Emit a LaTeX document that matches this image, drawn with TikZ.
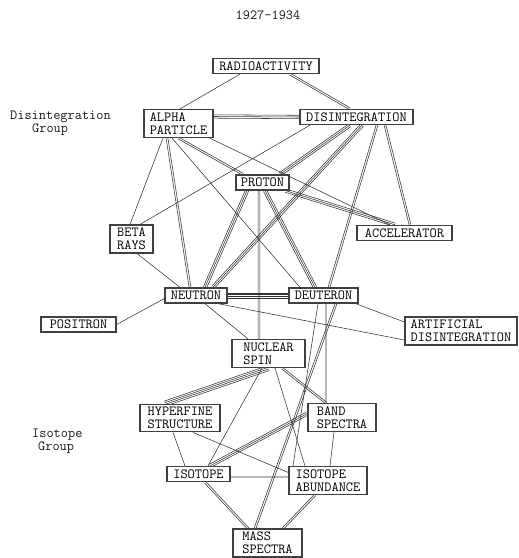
\documentclass[tikz,border=0pt]{standalone}
\usetikzlibrary{calc,backgrounds}
\tikzset{
  box/.style={draw=black!75, line width=1.3bp,
    fill=white, font=\ttfamily\fontsize{14}{13}\selectfont, text=black,
    align=left, inner xsep=3bp, inner ysep=3bp, minimum height=15bp},
  lbl/.style={font=\ttfamily\fontsize{14}{13}\selectfont, text=black!90,
    align=left, inner sep=0pt},
  ln/.style={draw=black!80, line width=0.55bp},
}
\newcommand\cnl[3]{\foreach \o in {#3}{\draw[ln] ($(#1)!\o!90:(#2)$) -- ($(#2)!\o!-90:(#1)$);}}
\newcommand\cA[2]{\draw[ln] (#1) -- (#2);}
\newcommand\cB[2]{\cnl{#1}{#2}{-0.9bp,0.9bp}}
\newcommand\cC[2]{\cnl{#1}{#2}{-1.7bp,0bp,1.7bp}}
\newcommand\cD[2]{\cnl{#1}{#2}{-2.55bp,-0.85bp,0.85bp,2.55bp}}
\begin{document}
\begin{tikzpicture}[x=1bp,y=-1bp]
\useasboundingbox (0,0) rectangle (519,558);
% labels
\node[lbl] (title) at (268,15) {1927-1934};
\node[lbl, anchor=west] (dgroup) at (10,123.5) {Disintegration\\\hspace*{22bp}Group};
\node[lbl, anchor=west] (igroup) at (32,441.5) {Isotope\\\hspace*{6bp}Group};
% nodes
\node[box, minimum width=106bp] (radio) at (266,66) {RADIOACTIVITY};
\node[box, minimum width=69bp] (alpha) at (178.5,123.5) {ALPHA\\PARTICLE};
\node[box, minimum width=113bp] (disint) at (356.5,117) {DISINTEGRATION};
\node[box, minimum width=53bp] (proton) at (262.5,182.5) {PROTON};
\node[box, minimum width=43bp] (beta) at (131.5,239) {BETA\\RAYS};
\node[box, minimum width=95bp] (accel) at (404.5,233) {ACCELERATOR};
\node[box, minimum width=62bp] (neutron) at (196,295.5) {NEUTRON};
\node[box, minimum width=69bp] (deuteron) at (323.5,295.5) {DEUTERON};
\node[box, minimum width=75bp] (positron) at (78.5,324.5) {POSITRON};
\node[box, minimum width=112bp] (artif) at (461,331) {ARTIFICIAL\\DISINTEGRATION};
\node[box, minimum width=73bp] (nspin) at (268.5,353.5) {NUCLEAR\\SPIN};
\node[box, minimum width=80bp] (hyper) at (180,418) {HYPERFINE\\STRUCTURE};
\node[box, minimum width=68bp] (band) at (342,417.5) {BAND\\SPECTRA};
\node[box, minimum width=63bp] (isotope) at (198.5,474) {ISOTOPE};
\node[box, minimum width=78bp] (abund) at (328,480.5) {ISOTOPE\\ABUNDANCE};
\node[box, minimum width=69bp] (mass) at (267.5,543) {MASS\\SPECTRA};
% connectors
\begin{pgfonlayer}{background}
\cA{[xshift=-26bp]radio.south}{[xshift=1.5bp]alpha.north}
\cB{[xshift=24bp]radio.south}{[xshift=-6.5bp]disint.north}
\cC{[yshift=7bp]alpha.east}{disint.west}
\cA{[xshift=-15.5bp]alpha.south}{[xshift=-1.5bp]beta.north}
\cB{[xshift=-11.5bp]alpha.south}{[xshift=-6bp]neutron.north}
\cA{[xshift=-6.5bp]alpha.south}{[xshift=-23.5bp]deuteron.north}
\cB{alpha.south}{[xshift=-19.5bp]proton.north}
\cA{[xshift=-4bp]alpha.south east}{[xshift=-14.5bp]accel.north}
\cA{[xshift=-46.5bp]disint.south}{[xshift=8.5bp]beta.north}
\cC{[xshift=-6.5bp]disint.south}{[xshift=17.5bp]proton.north}
\cC{[xshift=5.5bp]disint.south}{[xshift=17bp]neutron.north}
\cB{[xshift=20.5bp]disint.south}{[xshift=5.5bp]deuteron.north}
\cB{[xshift=28.5bp]disint.south}{[xshift=5.5bp]accel.north}
\cC{[xshift=-15.5bp]proton.south}{[xshift=9bp]neutron.north}
\cB{[xshift=-3.5bp]proton.south}{[xshift=-9.5bp]nspin.north}
\cC{[xshift=2.5bp]proton.south}{[xshift=-8.5bp]deuteron.north}
\cC{[xshift=-4bp]proton.south east}{[xshift=-9.5bp]accel.north}
\cA{[xshift=5.5bp]beta.south}{[xshift=-16bp]neutron.north}
\cA{positron.east}{[yshift=-3bp]neutron.west}
\cD{neutron.east}{deuteron.west}
\cA{[xshift=9bp]neutron.south}{[xshift=-20.5bp]nspin.north}
\cA{[xshift=22bp]neutron.south}{[yshift=-9bp]artif.west}
\cA{[xshift=-3bp]deuteron.south east}{[yshift=9bp]artif.west}
\cA{[xshift=2.5bp]deuteron.south}{[xshift=-16bp]band.north}
\cB{[xshift=12.5bp]deuteron.south}{[xshift=-12.5bp]mass.north}
\cA{[xshift=-5.5bp]deuteron.south}{[xshift=-35bp]abund.north}
\cD{nspin.south}{[xshift=-15bp]hyper.north}
\cA{[xshift=-6.5bp]nspin.south}{[xshift=9.5bp]isotope.north}
\cA{[xshift=6.5bp]nspin.south}{[xshift=-23bp]abund.north}
\cB{[xshift=13.5bp]nspin.south}{[xshift=-16bp]band.north}
\cA{[xshift=-7bp]hyper.south}{[xshift=-13.5bp]isotope.north}
\cA{[xshift=13bp]hyper.south}{[yshift=8bp]abund.west}
\cC{[xshift=11.5bp]isotope.north}{[yshift=4bp]band.west}
\cA{[yshift=-3bp]isotope.east}{[yshift=3.5bp]abund.west}
\cB{[xshift=6.5bp]isotope.south}{[xshift=-19.5bp]mass.north}
\cB{[xshift=-13bp]abund.south}{[xshift=15.5bp]mass.north}
\cA{[xshift=-8bp]band.south}{[xshift=2bp]abund.north}
\end{pgfonlayer}
\end{tikzpicture}
\end{document}
